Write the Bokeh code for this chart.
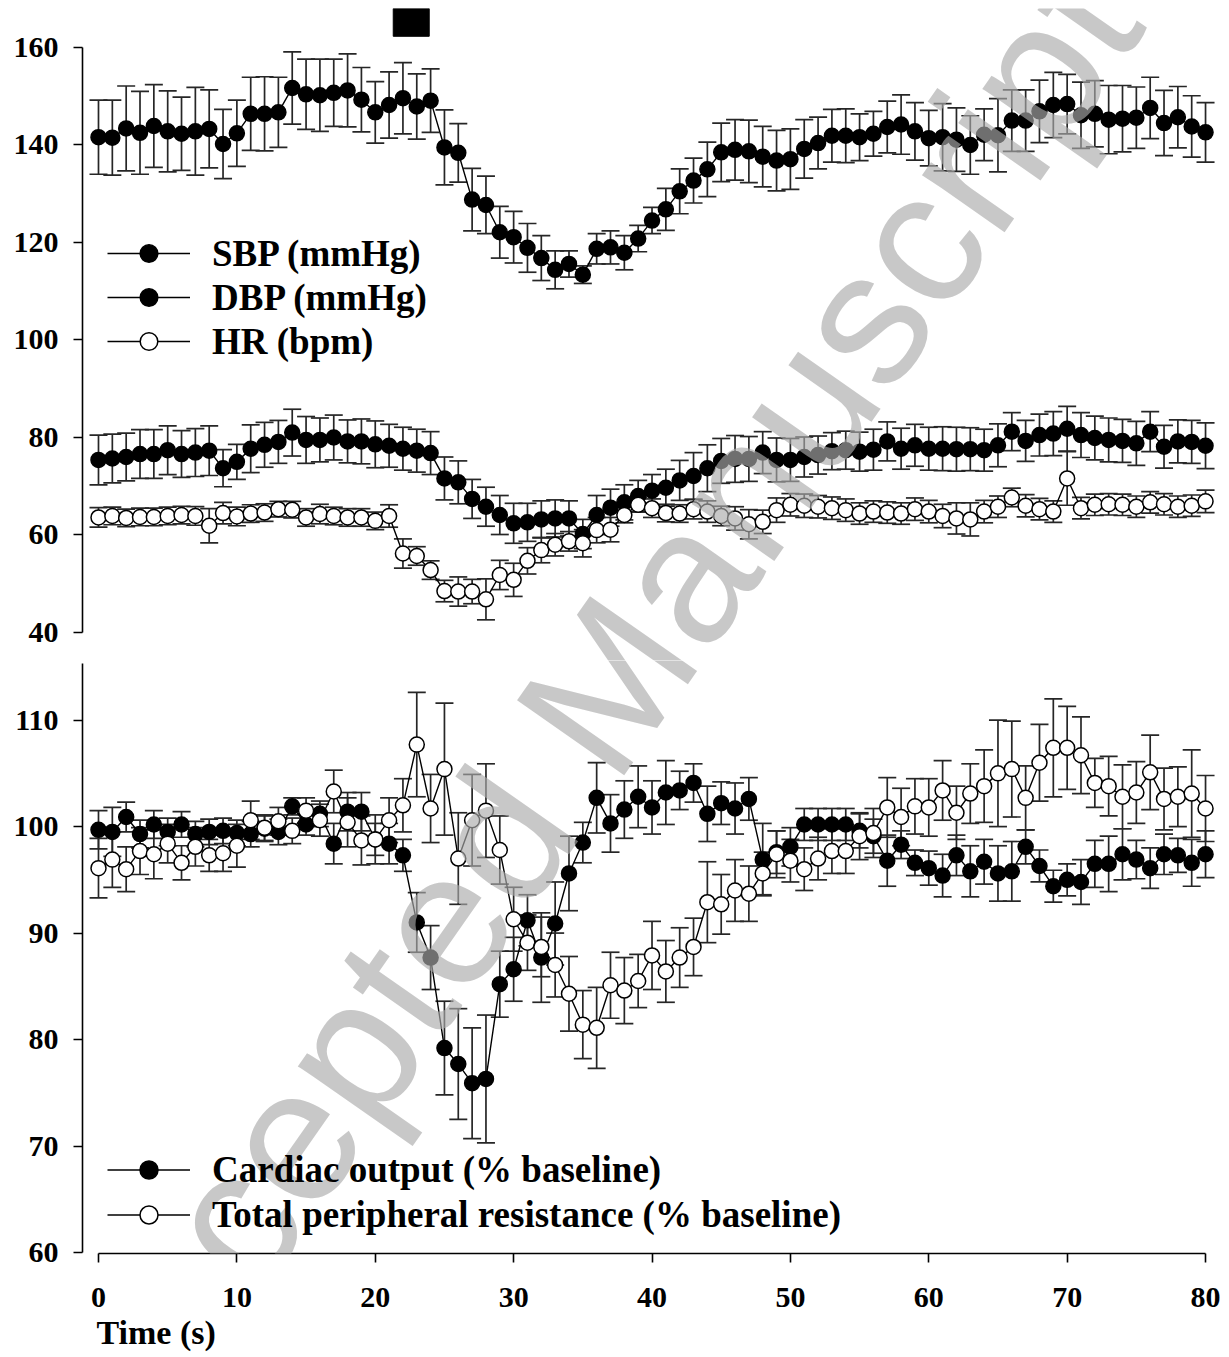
from bokeh.plotting import figure
from bokeh.models import (ColumnDataSource, Whisker, TeeHead, Legend, LegendItem,
                          FixedTicker, Label, Title)
from bokeh.layouts import column
from bokeh.embed import file_html
from bokeh.resources import INLINE

# ---------------- data ----------------
time_s = list(range(81))

sbp = [141.6, 141.5, 143.4, 142.5, 143.9, 142.8, 142.3, 142.8, 143.3, 140.2,
       142.4, 146.4, 146.4, 146.7, 151.7, 150.4, 150.2, 150.7, 151.2, 149.3,
       146.7, 148.2, 149.6, 147.9, 149.1, 139.5, 138.4, 128.8, 127.7, 122.1,
       121.1, 118.9, 116.8, 114.4, 115.6, 113.4, 118.7, 119.0, 117.9, 120.8,
       124.5, 126.8, 130.5, 132.7, 135.0, 138.5, 139.0, 138.7, 137.6, 136.8,
       137.1, 139.2, 140.4, 141.9, 141.9, 141.6, 142.3, 143.7, 144.2, 142.8,
       141.4, 141.6, 141.1, 140.0, 142.1, 142.0, 145.0, 145.0, 146.9, 148.2,
       148.4, 146.1, 146.4, 145.2, 145.4, 145.6, 147.6, 144.5, 145.7, 143.8,
       142.6]
sbp_se = [7.6, 7.7, 8.7, 8.5, 8.5, 8.3, 7.5, 9.0, 8.0, 7.1,
          6.8, 7.5, 7.6, 7.2, 7.4, 7.2, 7.4, 6.9, 7.5, 6.6,
          6.3, 6.8, 7.3, 6.7, 6.5, 7.7, 6.0, 6.4, 5.9, 5.3,
          5.3, 5.0, 4.6, 3.9, 2.7, 1.8, 3.1, 3.4, 3.5, 2.7,
          2.7, 4.3, 4.6, 4.6, 5.6, 6.0, 6.2, 6.4, 6.2, 6.2,
          6.2, 6.0, 5.3, 5.4, 5.5, 4.8, 4.6, 5.3, 6.1, 5.9,
          5.7, 6.9, 6.5, 6.0, 5.3, 7.5, 6.3, 6.3, 6.4, 6.7,
          6.1, 6.8, 6.8, 7.0, 6.8, 6.3, 6.3, 6.7, 6.3, 6.3,
          6.1]

dbp = [75.4, 75.7, 76.0, 76.6, 76.6, 77.4, 76.6, 76.9, 77.3, 73.7,
       75.0, 77.7, 78.5, 79.1, 81.0, 79.5, 79.5, 80.0, 79.2, 79.2,
       78.6, 78.3, 77.7, 77.3, 76.8, 71.6, 70.8, 67.4, 65.8, 64.1,
       62.4, 62.6, 63.2, 63.4, 63.4, 60.2, 64.1, 65.6, 66.7, 68.0,
       69.1, 69.7, 71.2, 72.1, 73.7, 75.2, 75.6, 75.6, 76.9, 75.4,
       75.4, 76.0, 76.4, 77.2, 77.4, 77.1, 77.5, 79.2, 77.7, 78.4,
       77.7, 77.7, 77.6, 77.6, 77.4, 78.4, 81.2, 79.3, 80.5, 80.8,
       81.8, 80.5, 79.9, 79.5, 79.3, 78.8, 81.2, 78.1, 79.2, 79.1,
       78.3]
dbp_se = [5.1, 5.0, 4.9, 5.0, 5.0, 5.0, 4.8, 4.9, 5.1, 3.8,
          3.6, 4.9, 4.6, 4.4, 4.8, 4.8, 4.5, 4.6, 4.4, 4.6,
          4.8, 4.4, 4.4, 4.4, 4.4, 4.4, 4.4, 4.0, 4.0, 4.0,
          4.1, 3.9, 3.8, 3.8, 3.6, 3.0, 4.0, 3.8, 3.6, 3.2,
          3.3, 3.8, 4.1, 4.8, 4.8, 4.6, 4.8, 4.6, 4.3, 4.5,
          4.4, 4.1, 3.9, 3.8, 3.9, 4.0, 4.2, 4.0, 4.2, 4.3,
          4.4, 4.5, 4.5, 4.4, 4.3, 4.4, 3.9, 4.2, 4.3, 4.5,
          4.6, 4.6, 4.5, 4.5, 4.4, 4.5, 4.1, 4.4, 4.4, 4.4,
          4.7]

hr = [63.6, 63.9, 63.5, 63.7, 63.7, 63.9, 64.1, 63.9, 61.9, 64.5,
      63.8, 64.4, 64.6, 65.3, 65.2, 63.6, 64.3, 63.9, 63.6, 63.6,
      62.9, 63.9, 56.2, 55.7, 52.8, 48.5, 48.4, 48.4, 46.8, 51.8,
      50.8, 54.7, 56.9, 58.0, 58.7, 58.3, 61.0, 61.1, 64.1, 66.2,
      65.5, 64.5, 64.4, 65.3, 64.8, 63.9, 63.4, 62.2, 62.7, 65.1,
      66.2, 66.0, 65.8, 65.5, 65.1, 64.4, 64.8, 64.6, 64.4, 65.3,
      64.8, 63.9, 63.4, 63.2, 64.8, 65.8, 67.7, 66.0, 65.3, 64.8,
      71.6, 65.5, 66.2, 66.3, 66.2, 65.8, 66.7, 66.3, 65.8, 66.0,
      66.9]
hr_se = [2.0, 1.8, 1.8, 1.8, 1.8, 1.8, 1.8, 1.9, 3.5, 2.2,
         1.9, 1.8, 1.8, 1.6, 1.7, 1.8, 2.0, 1.8, 1.8, 1.8,
         1.8, 2.3, 3.0, 1.9, 1.9, 2.2, 3.0, 2.5, 4.2, 3.0,
         3.4, 2.7, 2.6, 2.3, 2.0, 2.8, 2.6, 2.5, 1.6, 1.5,
         1.9, 1.8, 1.8, 2.0, 2.2, 2.0, 2.4, 3.0, 2.4, 2.5,
         2.3, 2.4, 2.3, 2.3, 2.3, 2.2, 2.2, 2.2, 2.2, 2.3,
         2.3, 2.4, 3.2, 3.4, 2.3, 2.2, 1.9, 2.3, 2.2, 2.2,
         5.5, 2.2, 2.2, 2.2, 2.2, 2.2, 2.2, 2.2, 2.2, 2.2,
         2.3]

co = [99.7, 99.5, 100.9, 99.3, 100.2, 99.5, 100.2, 99.3, 99.5, 99.6,
      99.4, 99.3, 99.8, 99.5, 101.9, 100.2, 101.2, 98.4, 101.4, 101.4,
      98.8, 98.4, 97.3, 91.0, 87.7, 79.2, 77.7, 75.9, 76.3, 85.2,
      86.6, 91.2, 87.7, 90.9, 95.6, 98.5, 102.7, 100.3, 101.6, 102.8,
      101.8, 103.2, 103.4, 104.1, 101.2, 102.2, 101.7, 102.6, 96.9, 97.6,
      98.1, 100.2, 100.2, 100.2, 100.2, 99.6, 99.1, 96.8, 98.3, 96.6,
      96.1, 95.4, 97.3, 95.8, 96.7, 95.6, 95.8, 98.1, 96.3, 94.4,
      95.0, 94.8, 96.5, 96.5, 97.4, 96.9, 96.1, 97.4, 97.3, 96.6,
      97.4]
co_se = [1.8, 2.3, 1.4, 1.3, 1.3, 1.3, 1.2, 1.2, 1.2, 1.2,
         1.2, 1.2, 1.2, 1.2, 0.8, 1.0, 1.2, 1.9, 1.8, 1.8,
         1.5, 1.9, 1.5, 2.8, 3.0, 4.4, 5.2, 5.2, 6.0, 3.1,
         3.0, 2.4, 4.2, 3.9, 3.5, 1.9, 3.3, 2.7, 2.7, 2.9,
         2.5, 3.0, 1.8, 1.8, 2.6, 2.0, 2.4, 2.0, 3.4, 2.0,
         1.8, 1.5, 1.5, 1.5, 1.5, 1.6, 1.6, 2.4, 1.3, 1.2,
         1.6, 2.0, 1.9, 2.4, 2.1, 2.6, 2.8, 1.6, 1.5, 1.5,
         1.5, 2.1, 2.2, 2.6, 2.4, 1.8, 1.9, 1.9, 1.6, 2.2,
         2.2]

tpr = [96.1, 96.9, 96.0, 97.7, 97.4, 98.4, 96.6, 98.1, 97.3, 97.5,
       98.2, 100.6, 99.9, 100.5, 99.6, 101.5, 100.6, 103.3, 100.4, 98.7,
       98.8, 100.6, 102.0, 107.7, 101.7, 105.4, 97.0, 100.6, 101.5, 97.8,
       91.3, 89.1, 88.7, 87.0, 84.3, 81.4, 81.1, 85.1, 84.6, 85.5,
       87.9, 86.4, 87.7, 88.7, 92.9, 92.7, 94.0, 93.7, 95.6, 97.4,
       96.8, 96.0, 97.0, 97.7, 97.7, 99.1, 99.4, 101.8, 100.9, 101.9,
       101.8, 103.4, 101.3, 103.1, 103.8, 105.0, 105.4, 102.7, 106.0, 107.4,
       107.4, 106.7, 104.1, 103.8, 102.8, 103.2, 105.1, 102.6, 102.8, 103.1,
       101.7]
tpr_se = [2.8, 2.6, 2.1, 2.2, 2.3, 1.8, 1.6, 1.8, 1.5, 1.7,
          2.0, 1.8, 1.2, 1.3, 1.2, 1.2, 1.5, 2.0, 2.3, 2.3,
          2.3, 2.1, 2.5, 4.9, 3.2, 6.2, 4.3, 4.3, 4.4, 3.2,
          3.0, 2.6, 2.8, 3.0, 3.5, 3.2, 3.8, 3.1, 3.1, 2.5,
          3.2, 2.9, 2.8, 2.7, 3.8, 2.8, 2.9, 2.6, 2.0, 2.2,
          2.0, 2.0, 2.0, 2.1, 2.1, 2.2, 2.3, 2.8, 2.7, 2.6,
          2.7, 2.8, 2.5, 2.8, 3.4, 5.0, 4.5, 3.0, 3.6, 4.6,
          3.9, 3.6, 2.3, 2.8, 3.0, 2.9, 3.5, 2.9, 2.8, 4.1,
          3.1]

stim_start, stim_end = 21.3, 23.9          # stimulus bar (s)
top_ticks = [40, 60, 80, 100, 120, 140, 160]
bottom_ticks = [60, 70, 80, 90, 100, 110]
x_ticks = [0, 10, 20, 30, 40, 50, 60, 70, 80]

top_labels = ["SBP (mmHg)", "DBP (mmHg)", "HR (bpm)"]
bottom_labels = ["Cardiac output (% baseline)", "Total peripheral resistance (% baseline)"]
x_title = "Time (s)"
watermark = "Accepted Manuscript"

# ---------------- styling helpers ----------------
SERIF = "Liberation Serif"
X_RANGE = (-1.156, 80.72)


def style_axis(ax):
    ax.axis_line_color = "black"
    ax.axis_line_width = 1.6
    ax.major_tick_line_color = "black"
    ax.major_tick_line_width = 1.6
    ax.major_tick_out = 9
    ax.major_tick_in = 0
    ax.minor_tick_line_color = None
    ax.major_label_text_font = SERIF
    ax.major_label_text_font_style = "bold"
    ax.major_label_text_font_size = "30px"
    ax.major_label_text_color = "black"
    ax.major_label_standoff = 15


def add_series(p, y, se, filled):
    src = ColumnDataSource(dict(t=time_s, y=y,
                                upper=[a + b for a, b in zip(y, se)],
                                lower=[a - b for a, b in zip(y, se)]))
    wcol = "#262626"
    w = Whisker(base="t", upper="upper", lower="lower", source=src,
                level="underlay", line_color=wcol, line_width=1.7,
                upper_head=TeeHead(size=18, line_color=wcol, line_width=1.7),
                lower_head=TeeHead(size=18, line_color=wcol, line_width=1.7))
    p.add_layout(w)
    ln = p.line("t", "y", source=src, line_color="black", line_width=1.4)
    sc = p.scatter("t", "y", source=src, marker="circle", size=15,
                   fill_color="black" if filled else "white",
                   line_color="black", line_width=1.5)
    return [ln, sc]


def make_legend(items, loc, row_h):
    return Legend(items=items, location=loc, orientation="vertical",
                  glyph_width=83, glyph_height=row_h, label_height=row_h,
                  label_standoff=22, spacing=0, padding=0, margin=0,
                  border_line_color=None, background_fill_alpha=0,
                  label_text_font=SERIF, label_text_font_style="bold",
                  label_text_font_size="37px", label_text_color="black")


def add_watermark(p, x, y):
    p.add_layout(Label(x=x, y=y, text=watermark, angle=0.96,
                       text_align="center", text_baseline="middle",
                       text_font="Liberation Sans", text_font_size="190px",
                       text_color="#ababab", text_alpha=0.65))


# ---------------- top panel ----------------
p1 = figure(width=1221, height=660, x_range=X_RANGE, y_range=(34.256, 168.0),
            output_backend="svg", toolbar_location=None,
            x_axis_location=None,
            min_border_left=82, min_border_right=6,
            min_border_top=8, min_border_bottom=0)
p1.outline_line_color = None
p1.xgrid.visible = False
p1.ygrid.visible = False
p1.yaxis.ticker = FixedTicker(ticks=top_ticks)
p1.yaxis.bounds = (40, 160)
style_axis(p1.yaxis[0])

r_sbp = add_series(p1, sbp, sbp_se, True)
r_dbp = add_series(p1, dbp, dbp_se, True)
r_hr = add_series(p1, hr, hr_se, False)

p1.quad(left=[stim_start], right=[stim_end], bottom=[162.3], top=[168.0],
        fill_color="black", line_color="black")

p1.add_layout(make_legend([LegendItem(label=top_labels[0], renderers=r_sbp),
                           LegendItem(label=top_labels[1], renderers=r_dbp),
                           LegendItem(label=top_labels[2], renderers=r_hr)],
                          (25, 297), 44))
add_watermark(p1, 35.19, 22.97)

# ---------------- bottom panel ----------------
p2 = figure(width=1221, height=693, x_range=X_RANGE, y_range=(59.906, 115.6),
            output_backend="svg", toolbar_location=None,
            min_border_left=82, min_border_right=6,
            min_border_top=0, min_border_bottom=100)
p2.outline_line_color = None
p2.xgrid.visible = False
p2.ygrid.visible = False
p2.yaxis.ticker = FixedTicker(ticks=bottom_ticks)
p2.yaxis.bounds = (60, 115.3)
p2.xaxis.ticker = FixedTicker(ticks=x_ticks)
p2.xaxis.bounds = (0, 80)
style_axis(p2.yaxis[0])
style_axis(p2.xaxis[0])
p2.xaxis.major_label_standoff = 25

r_co = add_series(p2, co, co_se, True)
r_tpr = add_series(p2, tpr, tpr_se, False)

p2.add_layout(make_legend([LegendItem(label=bottom_labels[0], renderers=r_co),
                           LegendItem(label=bottom_labels[1], renderers=r_tpr)],
                          (25, 16), 45))

p2.add_layout(Title(text=x_title, align="left", offset=14, standoff=4,
                    text_font=SERIF, text_font_style="bold",
                    text_font_size="34px", text_color="black"), "below")
add_watermark(p2, 35.19, 110.43)

layout = column(p1, p2, spacing=0)
open("out.html", "w").write(file_html(layout, INLINE))
